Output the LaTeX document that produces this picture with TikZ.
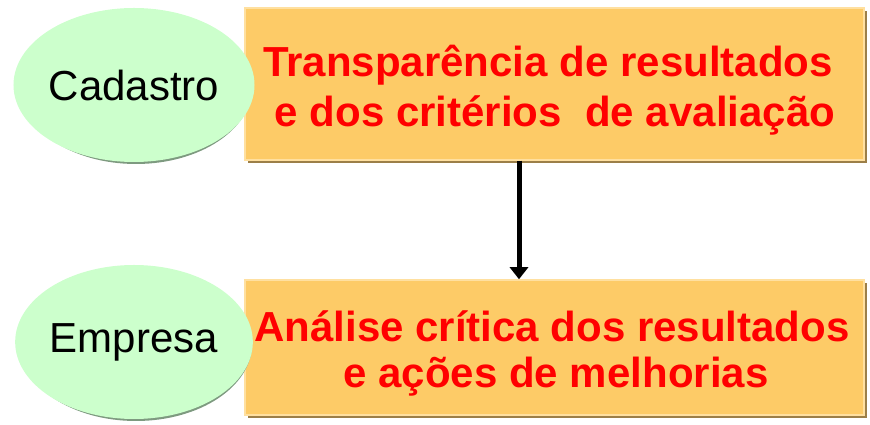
\documentclass[tikz,border=0pt]{standalone}
\usepackage{fontspec}
\setmainfont{Liberation Sans}
\usetikzlibrary{arrows.meta,shapes.geometric,calc}
\definecolor{ellfill}{HTML}{CCFFCC}
\definecolor{ellshadow}{HTML}{7E9A80}
\definecolor{boxfill}{HTML}{FDCB67}
\definecolor{boxshadow}{HTML}{9C7F48}
\definecolor{boxlight}{HTML}{FFE0A0}
\tikzset{
  x=1pt,y=1pt,
  oval/.style={ellipse, fill=ellfill, minimum width=232pt, minimum height=154pt, inner sep=0pt,
    font=\fontsize{42}{46}\selectfont, text=black},
  ovalshadow/.style={ellipse, fill=ellshadow, minimum width=232pt, minimum height=154pt, inner sep=0pt},
  panel/.style={rectangle, fill=boxfill, draw=boxlight, line width=1.5pt, inner sep=0pt},
  panelshadow/.style={rectangle, fill=boxshadow, inner sep=0pt},
  redtext/.style={anchor=base, inner sep=0pt, font=\bfseries\fontsize{42}{46}\selectfont, text=red},
  flow/.style={line width=5pt, black, -{Triangle[length=12pt,width=18pt]}}
}
\begin{document}
\begin{tikzpicture}
\useasboundingbox (0,0) rectangle (870,425);
% box shadows
\node[panelshadow, minimum width=619pt, minimum height=152pt] (s1) at (557.5,338) {};
\node[panelshadow, minimum width=619pt, minimum height=135pt] (s2) at (557.5,74.5) {};
% boxes
\node[panel, minimum width=619pt, minimum height=152pt] (b1) at (554.5,341) {};
\node[panel, minimum width=619pt, minimum height=135pt] (b2) at (554.5,77.5) {};
% box texts
\node[redtext] (t11) at (548,348) {Transparência de resultados};
\node[redtext] (t12) at (555,298) {e dos critérios\ \ de avaliação};
\node[redtext] (t21) at (552,83) {Análise crítica dos resultados};
\node[redtext] (t22) at (556,37) {e ações de melhorias};
% ellipses with shadows
\node[ovalshadow] (es1) at (136,338) {};
\node[oval] (e1) at (134,340) {Cadastro};
\node[ovalshadow] (es2) at (136,81) {};
\node[oval] (e2) at (134,83) {Empresa};
% arrow
\draw[flow] (b1.south -| 519,0) -- (b2.north -| 519,0);
\end{tikzpicture}
\end{document}
